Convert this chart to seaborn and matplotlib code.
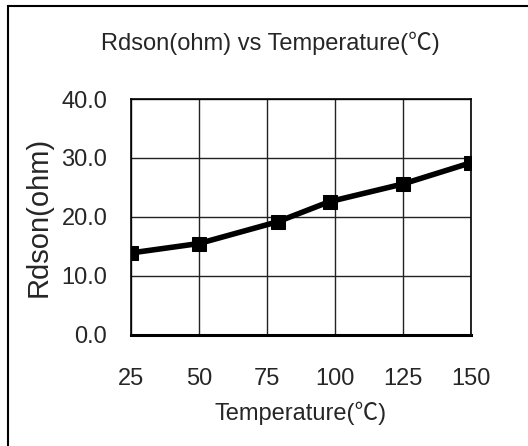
import matplotlib
matplotlib.use("Agg")
import matplotlib.pyplot as plt
import matplotlib.patches as patches
import seaborn as sns
import pandas as pd

# Data
temperature = [25, 50, 79, 98, 125, 150]
rdson = [13.9, 15.5, 19.2, 22.6, 25.6, 29.2]
x_ticks = [25, 50, 75, 100, 125, 150]
y_ticks = [0, 10, 20, 30, 40]

df = pd.DataFrame({"Temperature": temperature, "Rdson": rdson})

sns.set_style("white")
plt.rcParams["font.family"] = ["Liberation Sans", "Noto Sans CJK SC", "DejaVu Sans"]

fig = plt.figure(figsize=(5.28, 4.46), dpi=100)
ax = fig.add_axes([0.248, 0.249, 0.644, 0.529])

sns.lineplot(data=df, x="Temperature", y="Rdson", ax=ax, color="black",
             linewidth=4, marker="s", markersize=10, markeredgecolor="black")

ax.set_xlim(25, 150)
ax.set_ylim(0, 40)
ax.set_xticks(x_ticks)
ax.set_yticks(y_ticks)
ax.set_yticklabels([f"{v:.1f}" for v in y_ticks])
ax.grid(True, color="#222222", linewidth=1.0)
for s in ax.spines.values():
    s.set_color("black")
    s.set_linewidth(1.2)
ax.spines["bottom"].set_linewidth(2.2)
ax.tick_params(axis="both", length=0, labelsize=17)
ax.tick_params(axis="x", pad=24)
ax.tick_params(axis="y", pad=17)

fig.text(270 / 528, 1 - 43 / 446, "Rdson(ohm) vs Temperature(℃)", fontsize=17,
         ha="center", va="center")
ax.set_xlabel("Temperature(℃)", fontsize=17, labelpad=8)
ax.set_ylabel("Rdson(ohm)", fontsize=21, labelpad=6)

# outer frame around the chart
fig.patches.append(patches.Rectangle((8 / 528, -0.01), 1.0, 1 - 6 / 446 + 0.01,
                                     transform=fig.transFigure, fill=False,
                                     edgecolor="black", linewidth=1.5))

fig.savefig("out.png", dpi=100)
